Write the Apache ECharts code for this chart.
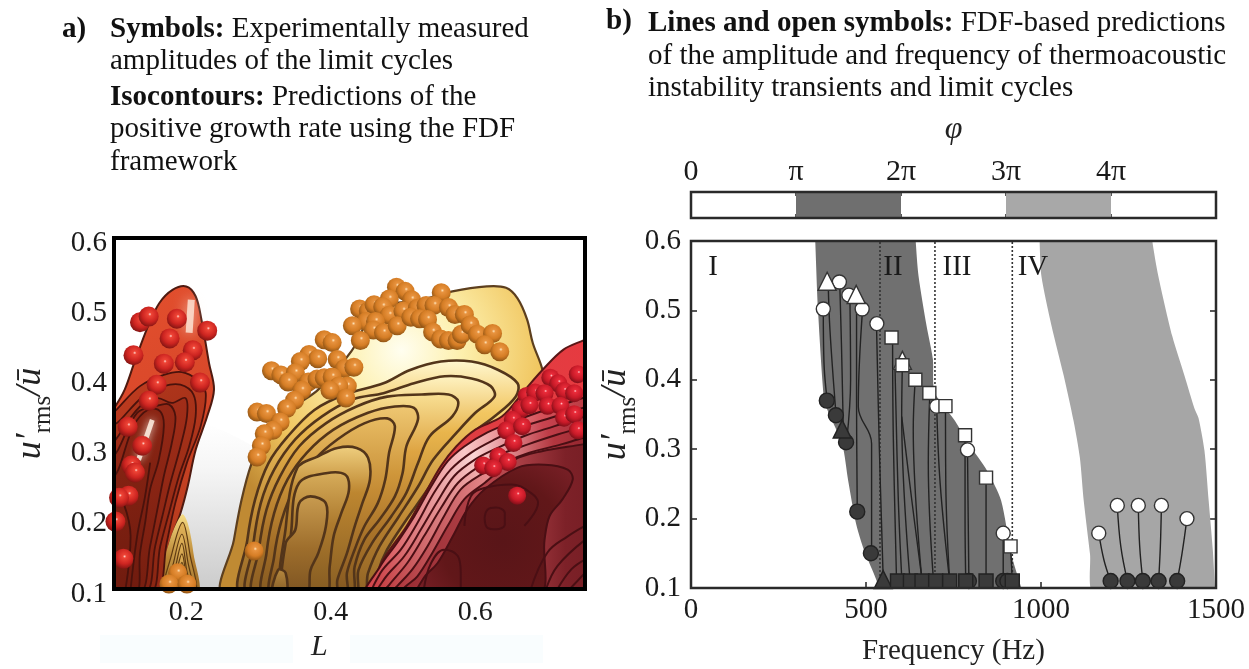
<!DOCTYPE html>
<html><head><meta charset="utf-8">
<style>html,body{margin:0;padding:0;background:#fff}#c{width:1249px;height:669px}</style>
<script src="https://cdn.jsdelivr.net/npm/echarts@6/dist/echarts.min.js"></script>
</head><body><div id="c"></div>
<script>
// ---------- Panel a: measured limit cycles [L, u'rms/ubar]
const redLeftBalls=[[.136,.480],[.148,.488],[.187,.485],[.229,.468],[.177,.457],[.127,.433],[.209,.440],[.169,.421],[.198,.423],[.159,.391],[.219,.394],[.148,.368],[.119,.331],[.139,.304],[.124,.276],[.129,.266],[.120,.233],[.107,.230],[.102,.196],[.113,.143]];
const orangeBalls=[[.491,.530],[.503,.524],[.481,.513],[.512,.512],[.553,.522],[.440,.499],[.452,.496],[.460,.505],[.472,.502],[.481,.490],[.500,.496],[.520,.500],[.532,.504],[.543,.504],[.563,.501],[.572,.491],[.585,.491],[.449,.481],[.462,.481],[.430,.475],[.459,.469],[.473,.465],[.492,.475],[.511,.487],[.523,.485],[.534,.484],[.441,.454],[.541,.466],[.552,.456],[.563,.454],[.575,.454],[.581,.463],[.593,.476],[.603,.463],[.624,.464],[.613,.448],[.634,.438],[.391,.455],[.402,.451],[.370,.434],[.382,.428],[.358,.424],[.409,.427],[.419,.414],[.432,.416],[.318,.411],[.331,.405],[.351,.408],[.341,.395],[.369,.395],[.381,.399],[.391,.401],[.402,.402],[.360,.383],[.423,.389],[.411,.389],[.399,.383],[.350,.369],[.421,.372],[.339,.357],[.298,.352],[.311,.350],[.330,.338],[.320,.326],[.308,.321],[.304,.304],[.298,.288],[.294,.154],[.188,.123],[.176,.107],[.201,.107]];
const redRightBalls=[[.704,.401],[.715,.393],[.742,.406],[.723,.382],[.737,.379],[.671,.375],[.683,.380],[.696,.379],[.663,.356],[.675,.362],[.700,.361],[.718,.361],[.652,.341],[.643,.326],[.665,.332],[.723,.344],[.737,.349],[.742,.326],[.653,.308],[.632,.289],[.645,.281],[.611,.276],[.625,.272],[.658,.233]];
// ---------- Panel a: predicted growth-rate regions and isocontours [L, u'rms/ubar]
const greyGap=[[.19,.09],[.19,.22],[.225,.335],[.31,.29],[.27,.09]];
const regionA=[[.09,.09],[.09,.345],[.1016,.360],[.1148,.384],[.128,.422],[.147,.474],[.1626,.507],[.181,.526],[.200,.531],[.213,.517],[.221,.484],[.2315,.422],[.2384,.384],[.229,.346],[.213,.298],[.202,.246],[.192,.208],[.176,.161],[.160,.09]];
const regionB=[[.160,.09],[.176,.165],[.194,.206],[.202,.194],[.210,.151],[.2156,.09]];
const regionC=[[.2527,.09],[.266,.170],[.2766,.227],[.2899,.277],[.3031,.303],[.3244,.332],[.3509,.360],[.3827,.384],[.4199,.427],[.4358,.450],[.4517,.484],[.4729,.503],[.526,.512],[.5684,.524],[.6161,.531],[.6427,.529],[.6586,.514],[.6718,.484],[.6798,.450],[.6931,.412],[.70,.36],[.60,.28],[.454,.09]];
const regionD=[[.445,.09],[.4543,.1],[.4729,.142],[.5047,.189],[.5313,.237],[.5525,.275],[.5737,.303],[.6002,.327],[.6373,.346],[.6692,.384],[.6931,.412],[.7222,.441],[.7514,.455],[.77,.465],[.77,.09]];
const orangeContours=[
[[.2777,.09],[.2846,.170],[.2952,.227],[.3137,.279],[.3403,.317],[.3774,.355],[.4199,.377],[.473,.393],[.510,.412],[.5525,.424],[.595,.424],[.632,.412],[.6586,.393],[.656,.374],[.627,.346],[.590,.317],[.558,.279],[.531,.237],[.505,.199],[.478,.156],[.465,.123],[.460,.09]],
[[.2872,.09],[.2925,.161],[.3031,.222],[.3217,.270],[.3509,.313],[.388,.346],[.4305,.370],[.473,.379],[.5153,.393],[.5578,.403],[.595,.400],[.6214,.389],[.6267,.374],[.6002,.351],[.5737,.322],[.5418,.284],[.521,.246],[.4941,.203],[.4676,.161],[.4517,.123],[.4437,.09]],
[[.2952,.09],[.3005,.156],[.3111,.213],[.3297,.260],[.3562,.303],[.3933,.336],[.4358,.360],[.4782,.374],[.526,.377],[.5631,.377],[.5764,.367],[.5684,.346],[.5365,.317],[.5207,.279],[.5047,.237],[.4835,.203],[.457,.165],[.4384,.127],[.4331,.09]],
[[.3084,.09],[.3111,.151],[.3217,.208],[.3403,.256],[.3668,.294],[.4039,.327],[.4517,.351],[.4888,.360],[.5153,.358],[.5207,.341],[.5047,.303],[.4994,.265],[.4888,.232],[.4676,.199],[.4464,.170],[.4331,.132],[.4278,.09]],
[[.319,.09],[.3217,.146],[.3323,.199],[.3509,.246],[.3774,.284],[.4092,.313],[.4464,.336],[.4782,.343],[.4888,.332],[.4808,.294],[.4755,.256],[.465,.222],[.4464,.189],[.4331,.156],[.4225,.123],[.4199,.09]],
[[.335,.09],[.338,.19],[.3535,.272],[.3827,.289],[.4092,.301],[.4358,.301],[.4517,.287],[.4543,.256],[.4437,.222],[.4331,.189],[.4225,.151],[.4092,.113],[.4066,.09]],
[[.345,.09],[.346,.19],[.3562,.251],[.3933,.265],[.4199,.263],[.4252,.241],[.4146,.208],[.404,.175],[.3986,.132],[.3933,.09]],
[[.3376,.165],[.3509,.184],[.3562,.222],[.372,.232],[.3933,.222],[.3933,.189],[.3827,.151],[.372,.127],[.3668,.09],[.335,.09]],
[[.319,.09],[.327,.127],[.3376,.123],[.3376,.09]]];
const archContours=[
[[.170,.09],[.180,.150],[.195,.195],[.205,.150],[.212,.09]],
[[.175,.09],[.183,.140],[.194,.178],[.202,.140],[.208,.09]],
[[.178,.09],[.185,.130],[.194,.165],[.200,.130],[.205,.09]],
[[.181,.09],[.187,.125],[.194,.150],[.199,.125],[.203,.09]],
[[.184,.09],[.189,.120],[.194,.138],[.198,.120],[.201,.09]]];
const redLeftContours=[
[[.09,.34],[.104,.356],[.136,.389],[.169,.405],[.194,.409],[.215,.398],[.227,.379],[.220,.332],[.201,.280],[.185,.223],[.173,.166],[.157,.09],[.09,.09]],
[[.09,.32],[.109,.341],[.141,.375],[.169,.389],[.192,.391],[.210,.377],[.213,.346],[.204,.303],[.190,.261],[.176,.208],[.164,.161],[.150,.09],[.09,.09]],
[[.09,.29],[.106,.318],[.136,.360],[.160,.372],[.180,.365],[.199,.372],[.201,.346],[.192,.303],[.178,.251],[.167,.204],[.157,.161],[.143,.09],[.09,.09]],
[[.09,.27],[.106,.299],[.132,.351],[.157,.360],[.176,.363],[.185,.346],[.180,.308],[.169,.261],[.160,.213],[.150,.161],[.136,.09],[.09,.09]],
[[.09,.24],[.106,.270],[.127,.332],[.148,.356],[.164,.353],[.169,.332],[.162,.284],[.150,.242],[.143,.194],[.136,.151],[.130,.09],[.09,.09]]];
const redLeftOpen=[[[.150,.280],[.143,.232],[.132,.175],[.123,.1]],[[.113,.223],[.123,.175],[.116,.1]]];
const redRightContours=[
[[.469,.133],[.492,.166],[.516,.204],[.539,.246],[.562,.282],[.585,.303],[.617,.323],[.654,.339],[.700,.356],[.749,.372],[.77,.38],[.77,.09],[.45,.09]],
[[.469,.123],[.497,.156],[.520,.194],[.543,.237],[.566,.270],[.594,.294],[.627,.313],[.663,.330],[.705,.344],[.749,.358],[.77,.365],[.77,.09],[.46,.09]],
[[.474,.114],[.502,.147],[.525,.185],[.548,.225],[.571,.261],[.599,.284],[.631,.301],[.668,.318],[.710,.332],[.749,.345],[.77,.35],[.77,.09],[.465,.09]],
[[.481,.106],[.506,.137],[.529,.175],[.553,.216],[.576,.251],[.603,.273],[.636,.292],[.673,.306],[.714,.320],[.749,.331],[.77,.34],[.77,.09],[.47,.09]],
[[.492,.104],[.513,.128],[.534,.161],[.557,.204],[.580,.242],[.608,.263],[.640,.280],[.675,.294],[.719,.306],[.749,.315],[.77,.32],[.77,.09],[.48,.09]],
[[.504,.104],[.520,.118],[.541,.152],[.562,.190],[.585,.228],[.613,.251],[.654,.284],[.691,.296],[.749,.306],[.77,.31],[.77,.09],[.49,.09]]];
const redRightInner=[[.520,.09],[.529,.116],[.548,.137],[.569,.175],[.589,.213],[.613,.242],[.659,.273],[.696,.277],[.728,.270],[.735,.256],[.721,.228],[.703,.204],[.696,.170],[.687,.09]];
const redRightOpen=[
[[.585,.190],[.594,.232],[.613,.244],[.650,.249],[.677,.237],[.687,.223],[.668,.19]],
[[.529,.1],[.539,.137],[.557,.156],[.576,.147],[.580,.123],[.580,.1]],
[[.613,.201],[.617,.213],[.629,.216],[.641,.208],[.641,.192],[.629,.185],[.617,.187],[.613,.201]],
[[.677,.1],[.700,.152],[.728,.175],[.752,.190]],
[[.698,.1],[.714,.133],[.752,.170]],
[[.714,.1],[.733,.128],[.752,.142]],
[[.731,.1],[.752,.123]]];
const highlightsA=[[[.153,.341],[.134,.284]],[[.207,.512],[.204,.465]]];
// ---------- Panel a ticks
const xTicksA=[0.2,0.4,0.6];
// ---------- Panel b: phase strip (units of pi)
const phiLabels=['0','π','2π','3π','4π',''];
const phiDark=[[1,0],[1,1],[2,1],[2,0]];
const phiLight=[[3,0],[3,1],[4,1],[4,0]];
// ---------- Panel b: bands [Hz, u'rms/ubar]
const bandDark=[[354,.61],[355,.6],[363,.5],[380,.372],[391,.355],[432,.307],[449,.255],[472,.192],[495,.154],[530,.111],[541,.09],[950,.09],[944,.1],[915,.149],[886,.226],[846,.269],[794,.307],[754,.341],[696,.382],[691,.43],[673,.478],[650,.55],[642,.6],[642,.61]];
const bandLight=[[996,.61],[996,.6],[1001,.55],[1030,.478],[1065,.406],[1093,.341],[1111,.288],[1122,.226],[1140,.149],[1153,.09],[1498,.09],[1497,.1],[1491,.154],[1479,.226],[1467,.298],[1450,.345],[1439,.358],[1410,.406],[1375,.463],[1335,.55],[1318,.6],[1318,.61]];
const regimeBounds=[540,697,918];
const regimeLabels=[[63,.5625,'I'],[577,.5625,'II'],[760,.5625,'III'],[977,.5625,'IV']];
// trajectories: from predicted limit cycle [Hz,u] down to start [Hz,u]
const trajectories=[
[[378,.5],[380,.424],[389,.371]],
[[392,.539],[397,.472],[414,.352]],
[[425,.539],[430,.448],[435,.332]],
[[454,.52],[456,.4],[445,.313]],
[[473,.515],[473,.376],[475,.212]],
[[490,.5],[478,.361],[516,.308],[516,.155]],
[[530,.479],[538,.304],[549,.116]],
[[576,.457],[578,.318],[587,.116]],
[[583,.414],[592,.232],[602,.116]],
[[604,.424],[602,.347],[625,.116]],
[[602,.347],[630,.23],[659,.116]],
[[640,.395],[635,.328],[659,.116]],
[[682,.376],[678,.28],[692,.116]],
[[702,.362],[712,.25],[739,.11]],
[[727,.362],[728,.25],[739,.11]],
[[783,.32],[783,.2],[785,.11]],
[[790,.299],[792,.2],[794,.11]],
[[843,.259],[843,.18],[843,.11]],
[[892,.179],[892,.14],[892,.11]],
[[913,.16],[916,.13],[918,.11]],
[[1165,.179],[1180,.14],[1199,.11]],
[[1218,.219],[1228,.16],[1247,.11]],
[[1278,.219],[1282,.16],[1291,.11]],
[[1344,.219],[1341,.16],[1336,.11]],
[[1417,.2],[1403,.15],[1389,.11]]];
const openCircles=[[424,.541],[451,.522],[378,.502],[489,.502],[531,.481],[702,.362],[790,.299],[892,.179],[1165,.179],[1218,.219],[1278,.219],[1344,.219],[1417,.2]];
const openTriangles=[[389,.542],[472,.523],[604,.428]];
const openSquares=[[573,.461],[604,.421],[641,.4],[681,.381],[727,.362],[783,.320],[843,.259],[913,.160]];
const filledCircles=[[388,.37],[414,.349],[443,.31],[475,.21],[514,.15],[794,.11],[892,.11],[904,.11],[1199,.11],[1247,.11],[1291,.11],[1336,.11],[1389,.11]];
const filledTriangles=[[432,.329],[549,.112]];
const filledSquares=[[590,.11],[627,.11],[660,.11],[699,.11],[739,.11],[785,.11],[843,.11],[918,.11]];

const SERIF='"Liberation Serif","Times New Roman",serif';
const lin=(x,y,x2,y2,stops)=>({type:'linear',x,y,x2,y2,colorStops:stops.map(c=>({offset:c[0],color:c[1]}))});
const rad=(x,y,r,stops)=>({type:'radial',x,y,r,colorStops:stops.map(c=>({offset:c[0],color:c[1]}))});

function poly(pts,fill,stroke,lw,z,ax,smooth){
  return {type:'custom',coordinateSystem:'cartesian2d',xAxisIndex:ax,yAxisIndex:ax,z,silent:true,clip:true,
    data:pts,encode:{x:0,y:1},
    renderItem:(p,api)=>p.dataIndex===0?{type:'polygon',shape:{points:pts.map(q=>api.coord(q)),smooth:smooth===undefined?0.35:smooth},style:{fill,stroke:stroke||'none',lineWidth:lw||0}}:null};
}
function curve(pts,color,lw,z,ax,extra){
  return Object.assign({type:'line',xAxisIndex:ax,yAxisIndex:ax,data:pts,smooth:0.4,showSymbol:false,symbol:'none',silent:true,z,clip:true,lineStyle:{color,width:lw}},extra||{});
}
function balls(pts,stops,size,z){
  return {type:'scatter',xAxisIndex:0,yAxisIndex:0,data:pts,symbolSize:size,z,silent:true,clip:true,itemStyle:{opacity:1,color:rad(.56,.38,.64,stops)}};
}
function marks(pts,symbol,size,color,border){
  return {type:'scatter',xAxisIndex:3,yAxisIndex:3,data:pts,symbol,symbolSize:size,z:8,silent:true,clip:false,itemStyle:{color,borderColor:border,borderWidth:1.4,opacity:1}};
}
const series=[];
// panel a
series.push(poly(greyGap,lin(0,0,0,1,[[0,'#ffffff'],[.25,'#f6f6f6'],[1,'#c8c8c8']]),null,0,2,0,0.1));
series.push(poly(regionA,lin(0,0,1,.75,[[0,'#e4502e'],[.5,'#d9482a'],[1,'#b33a1c']]),'#4f1a10',2,3,0));
series.push(poly(regionB,lin(0,0,0,1,[[0,'#f6dc84'],[.5,'#b98432'],[1,'#8a5e20']]),null,0,3,0));
archContours.forEach(c=>series.push(poly(c,lin(0,0,0,1,[[0,'#e2b45a'],[1,'#9a6b26']]),'#5f3b12',1.2,3,0)));
series.push(poly(regionC,rad(.55,.2,.62,[[0,'#fffef0'],[.3,'#fdf0ad'],[.7,'#f0c55e'],[1,'#c08a33']]),'#5d3f1e',2.2,3,0));
const layerStops=[
[[0,'#fff8d2'],[.22,'#f2c660'],[.65,'#c08a35'],[1,'#8d6225']],
[[0,'#fff4c4'],[.25,'#e9b54c'],[.65,'#b57e2e'],[1,'#8a5f24']],
[[0,'#f9e196'],[.28,'#dea442'],[.65,'#ab7429'],[1,'#855a22']],
[[0,'#efc873'],[.35,'#cf963a'],[.72,'#a06b26'],[1,'#7e5620']],
[[0,'#e8bb62'],[.4,'#c48b34'],[.8,'#966425'],[1,'#7a521e']],
[[0,'#f0d080'],[.3,'#bd8630'],[1,'#835a22']],
[[0,'#d8ae5c'],[.4,'#ad7a2e'],[1,'#7f5720']],
[[0,'#c99c50'],[.5,'#9e6e2c'],[1,'#785020']],
[[0,'#b88a40'],[1,'#7a5220']]];
orangeContours.forEach((c,i)=>series.push(poly(c,lin(0,0,0,1,layerStops[i]),'#53351a',2.6,3,0)));
redLeftContours.forEach((c,i)=>series.push(poly(c,lin(0,0,1,1,[[0,['#c23d20','#b3371c','#a8301a','#9a2a17','#8e2614'][i]],[1,['#8c2613','#842311','#7c2010','#731d0f','#6c1a0e'][i]]]),'#4a120c',1.8,4,0)));
redLeftOpen.forEach(c=>series.push(curve(c,'#4a120c',1.8,4,0)));
highlightsA.forEach((c,i)=>series.push(curve(c,'#fff1e4',i?7:5,4,0,{smooth:false,lineStyle:{color:'#fff1e4',width:i?7:5,shadowBlur:i?14:8,shadowColor:'#fff1e4',opacity:i?.75:.85}})));
series.push(poly(regionD,lin(0,0,1,0,[[0,'#d43c40'],[.6,'#e23d42'],[1,'#e8393f']]),'#5a1616',2,5,0));
const fanStops=[
[[0,'#cf3c42'],[.4,'#f9c8c8'],[.7,'#d5525a'],[1,'#a72b33']],
[[0,'#c93a40'],[.42,'#fbd5d5'],[.7,'#c94450'],[1,'#9f2830']],
[[0,'#c2373c'],[.43,'#fbcaca'],[.72,'#bf3d48'],[1,'#97262e']],
[[0,'#b73338'],[.45,'#f5b6b6'],[.74,'#b3363f'],[1,'#8e232b']],
[[0,'#a72d33'],[.47,'#e88e90'],[.76,'#a42e37'],[1,'#842027']],
[[0,'#962930'],[.5,'#b8484e'],[.78,'#7d2128'],[1,'#721c22']]];
redRightContours.forEach((c,i)=>series.push(poly(c,lin(0,0,1,0,fanStops[i]),'#4a0f14',2,5,0)));
series.push(poly(redRightInner,rad(.55,.55,.72,[[0,'#591518'],[.6,'#611719'],[1,'#7a2027']]),'#4a0f14',2,5,0));
redRightOpen.forEach(c=>series.push(curve(c,'#4a0f14',2,5,0)));
const redBall=[[0,'#ffd6cc'],[.13,'#ee4436'],[.6,'#cc2420'],[1,'#801412']];
const crimsonBall=[[0,'#ffc7cb'],[.13,'#ea2c3a'],[.6,'#c81a28'],[1,'#7c0f18']];
const orangeBall=[[0,'#fde2b8'],[.15,'#e8933f'],[.6,'#d57d25'],[1,'#8c5214']];
series.push(balls(redLeftBalls,redBall,20,7));
series.push(balls(orangeBalls,orangeBall,19,7));
series.push(balls(redRightBalls,crimsonBall,18,7));
// panel b strip
series.push(poly(phiDark,'#6f6f6f',null,0,3,1,0));
series.push(poly(phiLight,'#a8a8a8',null,0,3,1,0));
// panel b bands
series.push(poly(bandDark,'#707070',null,0,3,3,0.25));
series.push(poly(bandLight,'#a6a6a6',null,0,3,3,0.25));
regimeBounds.forEach(f=>series.push({type:'line',xAxisIndex:3,yAxisIndex:3,data:[[f,.1],[f,.6]],symbol:'none',silent:true,z:4,lineStyle:{color:'#333',width:1.6,type:[2,2]}}));
trajectories.forEach(t=>series.push({type:'line',xAxisIndex:3,yAxisIndex:3,data:t,smooth:0.4,symbol:'none',silent:true,z:6,lineStyle:{color:'#222',width:1.4}}));
series.push(marks(filledCircles,'circle',15,'#3a3a3a','#222'));
series.push(marks(filledTriangles,'triangle',18,'#3a3a3a','#222'));
series.push(marks(filledSquares,'rect',14,'#3a3a3a','#222'));
series.push(marks(openCircles,'circle',14,'#fff','#333'));
series.push(marks(openTriangles,'triangle',18,'#fff','#333'));
series.push(marks(openSquares,'rect',13,'#fff','#333'));
series.push({type:'scatter',xAxisIndex:3,yAxisIndex:3,data:regimeLabels,symbolSize:0,z:9,silent:true,itemStyle:{opacity:1},
  label:{show:true,position:'inside',formatter:p=>p.data[2],fontFamily:SERIF,fontSize:29,color:'#1a1a1a',opacity:1}});

const yName={'i':{fontFamily:SERIF,fontStyle:'italic',fontSize:36,color:'#222',verticalAlign:'bottom'},
  s:{fontFamily:SERIF,fontSize:25,color:'#222',verticalAlign:'bottom',padding:[0,0,-7,0]}};
const tick=(fs,m)=>({fontFamily:SERIF,fontSize:fs,color:'#1a1a1a',margin:m});
const yTick=(m,pad)=>({margin:m,formatter:v=>'{a|'+v.toFixed(1)+'}',rich:{a:{fontFamily:SERIF,fontSize:29,color:'#1a1a1a',padding:[pad,0,0,0]}}});
const hide={show:false};
const noZero={show:false,onZero:false};
const textLine=(text,left,top,style)=>({text,left,top,padding:0,textStyle:Object.assign({fontFamily:SERIF,fontSize:29,fontWeight:'normal',color:'#111',rich:{b:{fontFamily:SERIF,fontSize:29,fontWeight:'bold',color:'#111'}}},style||{})});

const option={
  animation:false,backgroundColor:'#fff',
  title:[
    textLine('{b|a)}',62,15),
    textLine('{b|Symbols:} Experimentally measured',110,15),
    textLine('amplitudes of the limit cycles',110,47),
    textLine('{b|Isocontours:} Predictions of the',110,83),
    textLine('positive growth rate using the FDF',110,115),
    textLine('framework',110,148),
    textLine('{b|b)}',606,7),
    textLine('{b|Lines and open symbols:} FDF-based predictions',648,9),
    textLine('of the amplitude and frequency of thermoacoustic',648,42),
    textLine('instability transients and limit cycles',648,74),
    textLine('L',311,632,{fontStyle:'italic',fontSize:30,color:'#222'})
  ],
  graphic:[
    {type:'rect',left:100,top:635,shape:{width:193,height:28},style:{fill:'#f9fdfe'},z:-1},
    {type:'rect',left:350,top:635,shape:{width:193,height:28},style:{fill:'#f9fdfe'},z:-1}
  ],
  grid:[
    {left:114,top:238,width:471,height:351,show:true,borderWidth:4,borderColor:'#000',backgroundColor:'transparent',z:10,outerBoundsMode:'none'},
    {left:691,top:192,width:525,height:26,show:true,borderWidth:2.5,borderColor:'#2a2a2a',backgroundColor:'transparent',z:10,outerBoundsMode:'none'},
    {left:691,top:241,width:525,height:347,show:false,outerBoundsMode:'none'},
    {left:691,top:241,width:525,height:347,show:true,borderWidth:2.5,borderColor:'#2a2a2a',backgroundColor:'transparent',z:10,outerBoundsMode:'none'}
  ],
  xAxis:[
    {gridIndex:0,type:'value',min:.1,max:.752,interval:.1,splitLine:hide,axisLine:noZero,axisTick:hide,
      axisLabel:Object.assign(tick(28,10),{formatter:v=>{const r=Math.round(v*10)/10;return Math.abs(v-r)<1e-6&&xTicksA.includes(r)?r.toFixed(1):''}})},
    {gridIndex:1,type:'value',position:'top',min:0,max:5,interval:1,splitLine:hide,axisLine:noZero,
      axisTick:{inside:true,length:4,lineStyle:{color:'#222',width:1.5}},
      axisLabel:Object.assign(tick(30,5),{formatter:v=>phiLabels[v]}),
      name:'φ',nameLocation:'middle',nameGap:46,nameTextStyle:{fontFamily:SERIF,fontStyle:'italic',fontSize:32,color:'#222'}},
    {gridIndex:2,type:'value',position:'top',min:0,max:1500,interval:500,splitLine:hide,axisLine:noZero,axisLabel:hide,
      axisTick:{inside:true,length:6,lineStyle:{color:'#222',width:1.5}}},
    {gridIndex:3,type:'value',min:0,max:1500,interval:500,splitLine:hide,axisLine:noZero,
      axisTick:{inside:true,length:6,lineStyle:{color:'#222',width:1.5}},
      axisLabel:Object.assign(tick(29,8),{formatter:v=>String(v)}),
      name:'Frequency (Hz)',nameLocation:'middle',nameGap:49,nameTextStyle:{fontFamily:SERIF,fontSize:29,color:'#222'}},
    {gridIndex:1,type:'value',position:'bottom',min:0,max:5,interval:1,splitLine:hide,axisLine:noZero,axisLabel:hide,
      axisTick:{inside:true,length:4,lineStyle:{color:'#222',width:1.5}}}
  ],
  yAxis:[
    {gridIndex:0,type:'value',min:.1,max:.6,interval:.1,splitLine:hide,axisLine:noZero,axisTick:hide,
      axisLabel:yTick(7,10),
      name:'{i|u′}{s|rms}{i|/ū}',nameLocation:'middle',nameRotate:90,nameGap:65,nameTextStyle:{rich:yName}},
    {gridIndex:1,type:'value',min:0,max:1,splitLine:hide,axisLine:noZero,axisTick:hide,axisLabel:hide},
    {gridIndex:2,type:'value',position:'right',min:.1,max:.6,interval:.1,splitLine:hide,axisLine:noZero,axisLabel:hide,
      axisTick:{inside:true,length:6,lineStyle:{color:'#222',width:1.5}}},
    {gridIndex:3,type:'value',min:.1,max:.6,interval:.1,splitLine:hide,axisLine:noZero,
      axisTick:{inside:true,length:6,lineStyle:{color:'#222',width:1.5}},
      axisLabel:yTick(10,0),
      name:'{i|u′}{s|rms}{i|/ū}',nameLocation:'middle',nameRotate:90,nameGap:45,nameTextStyle:{rich:yName}}
  ],
  series
};
echarts.init(document.getElementById('c'),null,{renderer:'canvas'}).setOption(option);
</script></body></html>
